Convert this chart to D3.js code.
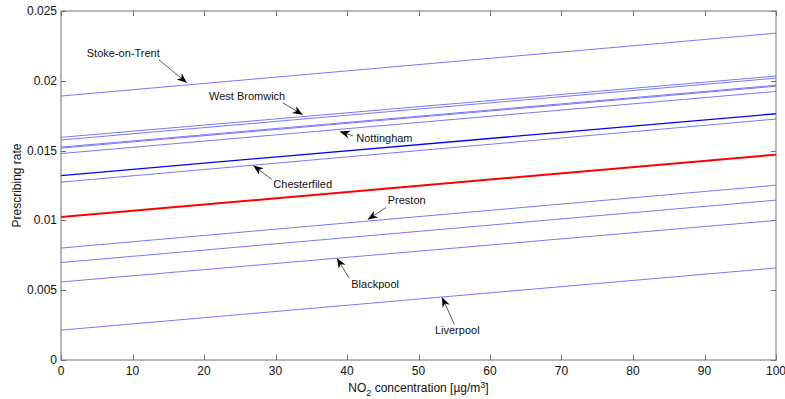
<!DOCTYPE html>
<html>
<head>
<meta charset="utf-8">
<script src="https://cdn.jsdelivr.net/npm/d3@7"></script>
<style>
  body { margin: 0; background: #fff; }
  text { font-family: "Liberation Sans", Arial, sans-serif; }
</style>
</head>
<body>
<div id="chart"></div>
<script>
// NO2 concentration range (x) and prescribing rate at both ends, one entry per town line
var no2 = [0, 100];
var rateAt0   = [0.01891, 0.01595, 0.01576, 0.01525, 0.01518, 0.01479, 0.01274, 0.00802, 0.00698, 0.00559, 0.00214];
var rateAt100 = [0.02341, 0.02034, 0.02019, 0.01968, 0.01961, 0.01924, 0.01726, 0.01252, 0.01145, 0.01000, 0.00659];
// highlighted lines
var darkLine = [0.01321, 0.01764];
var redLine  = [0.01024, 0.01471];

var xTicks = [0, 10, 20, 30, 40, 50, 60, 70, 80, 90, 100];
var yTicks = [0, 0.005, 0.01, 0.015, 0.02, 0.025];

// annotations: label, text anchor point, arrow tail, arrow head (data coords)
var annNames = ["Stoke-on-Trent", "West Bromwich", "Nottingham", "Chesterfiled", "Preston", "Blackpool", "Liverpool"];
var annText  = [[3.6, 0.02200], [20.7, 0.01893], [41.3, 0.01593], [29.7, 0.01264], [45.7, 0.01143], [40.6, 0.00543], [52.3, 0.00214]];
var annTail  = [[13.7, 0.02150], [31.0, 0.01843], [40.8, 0.01607], [29.5, 0.01293], [45.5, 0.01093], [40.3, 0.00586], [55.0, 0.00257]];
var annHead  = [[17.6, 0.01986], [33.8, 0.01757], [39.0, 0.01636], [26.9, 0.01393], [42.9, 0.01007], [38.6, 0.00729], [53.3, 0.00450]];

var width = 785, height = 399;
var margin = {top: 11, right: 9, bottom: 39, left: 61};

var svg = d3.select("#chart").append("svg")
  .attr("width", width)
  .attr("height", height);

var x = d3.scaleLinear().domain([0, 100]).range([margin.left, width - margin.right]);
var y = d3.scaleLinear().domain([0, 0.025]).range([height - margin.bottom, margin.top]);

var defs = svg.append("defs");
defs.append("marker")
  .attr("id", "arrow")
  .attr("viewBox", "0 0 10 10")
  .attr("refX", 10).attr("refY", 5)
  .attr("markerWidth", 10).attr("markerHeight", 10)
  .attr("markerUnits", "userSpaceOnUse")
  .attr("orient", "auto")
  .append("path")
  .attr("d", "M0,1 L10,5 L0,9 L3,5 Z")
  .attr("fill", "#000");

var line = d3.line().x(d => x(d[0])).y(d => y(d[1]));

function pts(v) { return [[no2[0], v[0]], [no2[1], v[1]]]; }

var plot = svg.append("g");

// light blue town lines
rateAt0.forEach(function(v, i){
  plot.append("path")
    .attr("d", line(pts([v, rateAt100[i]])))
    .attr("fill", "none")
    .attr("stroke", "#7878ff")
    .attr("stroke-width", 1);
});

plot.append("path")
  .attr("d", line(pts(darkLine)))
  .attr("fill", "none")
  .attr("stroke", "#0000ff")
  .attr("stroke-width", 1.3);

plot.append("path")
  .attr("d", line(pts(redLine)))
  .attr("fill", "none")
  .attr("stroke", "#ff0000")
  .attr("stroke-width", 2);

// axes box with inward ticks (matlab style)
var axisColor = "#707070";
var x0 = x(0), x1 = x(100), y0 = y(0), y1 = y(0.025);

svg.append("rect")
  .attr("x", x0).attr("y", y1)
  .attr("width", x1 - x0).attr("height", y0 - y1)
  .attr("fill", "none")
  .attr("stroke", axisColor)
  .attr("stroke-width", 1);

var tl = 5;
xTicks.forEach(function(t){
  var px = Math.round(x(t)) + 0.5;
  svg.append("line").attr("x1", px).attr("x2", px).attr("y1", y0).attr("y2", y0 - tl).attr("stroke", axisColor);
  svg.append("line").attr("x1", px).attr("x2", px).attr("y1", y1).attr("y2", y1 + tl).attr("stroke", axisColor);
  svg.append("text")
    .attr("x", x(t)).attr("y", y0 + 15)
    .attr("text-anchor", "middle")
    .style("font-size", "12px")
    .attr("fill", "#111")
    .text(t);
});

yTicks.forEach(function(t){
  var py = Math.round(y(t)) + 0.5;
  svg.append("line").attr("x1", x0).attr("x2", x0 + tl).attr("y1", py).attr("y2", py).attr("stroke", axisColor);
  svg.append("line").attr("x1", x1).attr("x2", x1 - tl).attr("y1", py).attr("y2", py).attr("stroke", axisColor);
  svg.append("text")
    .attr("x", x0 - 4).attr("y", y(t) + 4)
    .attr("text-anchor", "end")
    .style("font-size", "12px")
    .attr("fill", "#111")
    .text(t);
});

// axis labels
var xl = svg.append("text")
  .attr("x", (x0 + x1) / 2).attr("y", y0 + 32)
  .attr("text-anchor", "middle")
  .style("font-size", "12px")
  .attr("fill", "#111");
xl.append("tspan").text("NO");
xl.append("tspan").attr("dy", 4).style("font-size", "9px").text("2");
xl.append("tspan").attr("dy", -4).text(" concentration [\u00b5g/m");
xl.append("tspan").attr("dy", -4).style("font-size", "9px").text("3");
xl.append("tspan").attr("dy", 4).text("]");

svg.append("text")
  .attr("transform", "translate(21," + ((y0 + y1) / 2) + ") rotate(-90)")
  .attr("text-anchor", "middle")
  .style("font-size", "12px")
  .attr("fill", "#111")
  .text("Prescribing rate");

// annotations
annNames.forEach(function(n, i){
  svg.append("line")
    .attr("x1", x(annTail[i][0])).attr("y1", y(annTail[i][1]))
    .attr("x2", x(annHead[i][0])).attr("y2", y(annHead[i][1]))
    .attr("stroke", "#333")
    .attr("stroke-width", 0.8)
    .attr("marker-end", "url(#arrow)");
  svg.append("text")
    .attr("x", x(annText[i][0])).attr("y", y(annText[i][1]) + 4)
    .style("font-size", "11px")
    .attr("fill", "#111")
    .text(n);
});
</script>
</body>
</html>
